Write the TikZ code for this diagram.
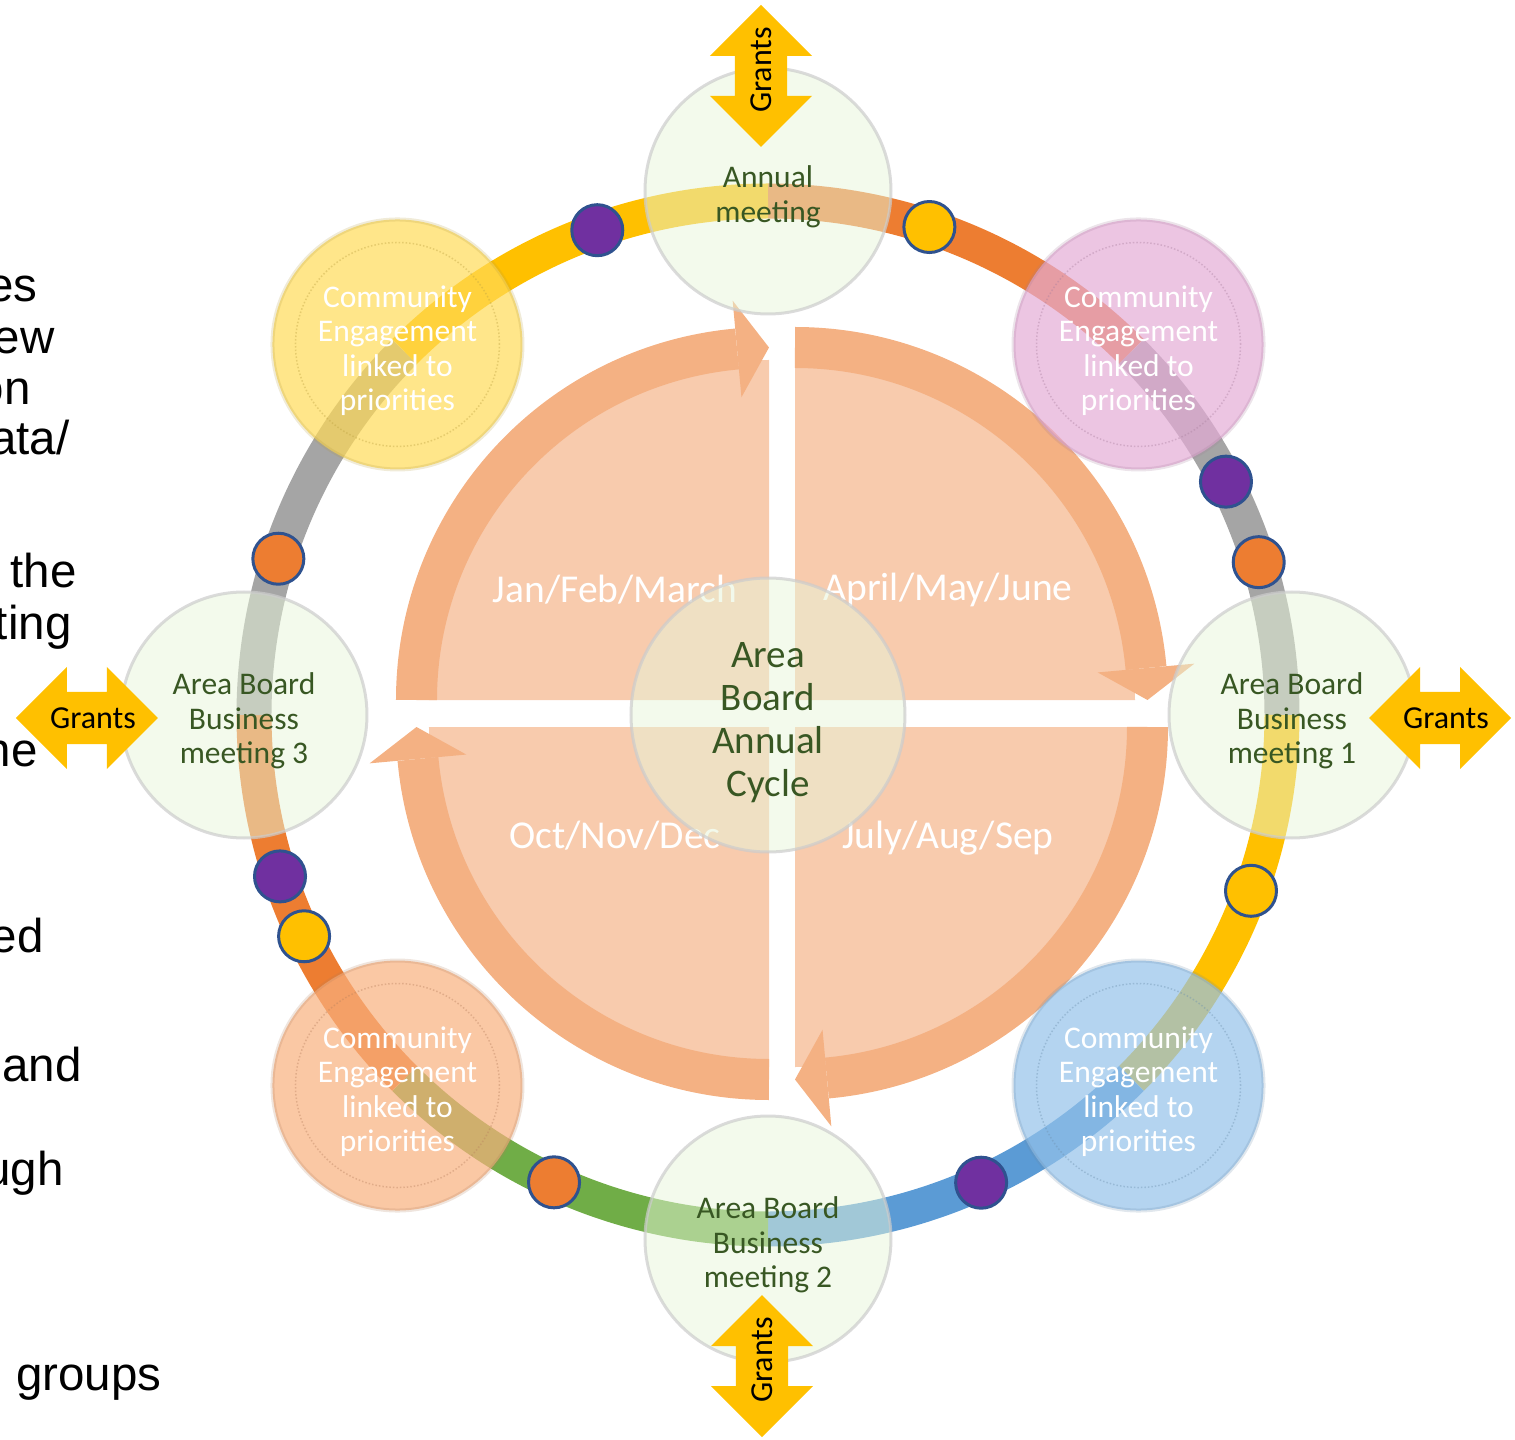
\documentclass[tikz,border=0pt]{standalone}
\usepackage{fontspec}
\setmainfont{Carlito}
\newfontfamily\arialfont{Liberation Sans}

\definecolor{ringorange}{HTML}{ED7D31}
\definecolor{ringgray}{HTML}{A5A5A5}
\definecolor{ringyellow}{HTML}{FFC000}
\definecolor{ringblue}{HTML}{5B9BD5}
\definecolor{ringgreen}{HTML}{70AD47}
\definecolor{dotpurple}{HTML}{7030A0}
\definecolor{dotline}{HTML}{2F528F}
\definecolor{bandcol}{HTML}{F4B183}
\definecolor{quadcol}{HTML}{F8CBAD}
\definecolor{textgreen}{HTML}{385723}
\definecolor{meetcol}{RGB}{231,245,217}
\definecolor{ceyellow}{RGB}{255,219,88}
\definecolor{cepink}{RGB}{228,172,214}
\definecolor{ceblue}{RGB}{148,194,234}
\definecolor{cepeach}{RGB}{248,176,126}

\begin{document}
\begin{tikzpicture}[x=1pt,y=1pt,
  ring/.style={line width=35,line cap=butt},
  band/.style={line width=41,bandcol},
  meeting/.style={circle,minimum size=246,inner sep=0,fill=meetcol,fill opacity=.5,
    draw=gray!40,draw opacity=.7,line width=3},
  meettext/.style={text=textgreen,align=center,font=\fontsize{31.5}{34.5}\selectfont},
  engage/.style={circle,minimum size=250,inner sep=0,fill opacity=.7,draw opacity=.2,line width=4},
  engtext/.style={text=white,align=center,font=\fontsize{31.5}{34.5}\selectfont},
  month/.style={text=white,font=\fontsize{39.5}{44}\selectfont},
  dot/.style={draw=dotline,line width=3},
  grants/.style={font=\fontsize{32}{36}\selectfont},
  lefttext/.style={anchor=base east,font=\arialfont\fontsize{47.5}{52}\selectfont}]
\useasboundingbox (-768,-725) rectangle (747,715);

% text cut off at the left edge
\node[lefttext] (t1) at (-727,413) {es};
\node[lefttext] (t2) at (-710,361) {ew};
\node[lefttext] (t3) at (-734,310) {on};
\node[lefttext] (t4) at (-695,260) {ata/};
\node[lefttext] (t5) at (-688,127) {the};
\node[lefttext] (t6) at (-693,75) {ting};
\node[lefttext] (t7) at (-727,-51) {ne};
\node[lefttext] (t8) at (-721,-237) {ed};
\node[lefttext] (t9) at (-683,-366) {and};
\node[lefttext] (t10) at (-701,-470) {ugh};
\node[lefttext] (t11) at (-603,-675) {groups};

% quarters
\foreach \cx/\cy/\s in {1/15/180, 27/15/90, 27/-12/0, 1/-12/-90}
{
\fill[quadcol, shift={(\cx,\cy)}] (0,0) -- (\s:340) arc[start angle=\s, end angle=\s-90, radius=340] -- cycle;
\draw[band, shift={(\cx,\cy)}] (\s:352.5) arc[start angle=\s, end angle=\s-84.8, radius=352.5];
\fill[bandcol, shift={(\cx,\cy)}] ({\s-84.8}:304) -- ({\s-84.8}:401) -- ({\s-90}:352.5) -- cycle;
}
\node[month] (q1) at (-153,125) {Jan/Feb/March};
\node[month] (q2) at (180,125) {April/May/June};
\node[month] (q3) at (180,-123) {July/Aug/Sep};
\node[month] (q4) at (-153,-121) {Oct/Nov/Dec};

% outer ring
\foreach \a/\c in {45/ringorange, 0/ringgray, -45/ringyellow, -90/ringblue, -135/ringgreen, -180/ringorange, 135/ringgray, 90/ringyellow}
\draw[ring, \c] (\a:514) arc[start angle=\a, end angle=\a+45, radius=514];

% circles
\foreach \nm/\a/\c in {ceUL/135/ceyellow, ceUR/45/cepink, ceLR/-45/ceblue, ceLL/-135/cepeach}
{
\node[engage, fill=\c, draw=\c!70!black] (\nm) at (\a:524) {};
\draw[\c!75!black, dotted, line width=1.5, opacity=.4] (\nm.center) circle (102);
\node[engtext] (\nm txt) at ([yshift=-6]\nm.center) {Community\\Engagement\\linked to\\priorities};
}
\node[meeting] (annual) at (90:524) {};
\node[meeting] (abm1) at (0:524) {};
\node[meeting] (abm2) at (-90:524) {};
\node[meeting] (abm3) at (180:524) {};
\node[meeting, minimum size=274] (cycle) at (0,0) {};
\node[meettext] (annualtxt) at ([yshift=-6]annual.center) {Annual\\meeting};
\node[meettext] (abm1txt) at ([yshift=-6]abm1.center) {Area Board\\Business\\meeting 1};
\node[meettext] (abm2txt) at ([yshift=-6]abm2.center) {Area Board\\Business\\meeting 2};
\node[meettext] (abm3txt) at ([yshift=-6]abm3.center) {Area Board\\Business\\meeting 3};
\node[meettext, font=\fontsize{39}{43}\selectfont] (cycletxt) at ([yshift=-8]cycle.center) {Area\\Board\\Annual\\Cycle};

% dots on the ring
\foreach \a/\c in {109.4/dotpurple, 71.7/ringyellow, 27/dotpurple, 17.3/ringorange, -20/ringyellow,
  -65.5/dotpurple, -114.6/ringorange, -161.7/dotpurple, -154.5/ringyellow, 162.3/ringorange}
\draw[dot, fill=\c] (\a:514) circle (25.5);

% grants arrows
\foreach \nm/\x/\y/\r in {gTop/-7/639/90, gRight/672/-3/0, gBottom/-6/-651/90, gLeft/-681/-3/0}
{
\begin{scope}[shift={(\x,\y)}, rotate=\r]
\fill[ringyellow] (-71,0) -- (-20,51) -- (-20,26) -- (20,26) -- (20,51) -- (71,0)
  -- (20,-51) -- (20,-26) -- (-20,-26) -- (-20,-51) -- cycle;
\node[grants, rotate=\r] (\nm) at (6,0) {Grants};
\end{scope}
}
\end{tikzpicture}
\end{document}
